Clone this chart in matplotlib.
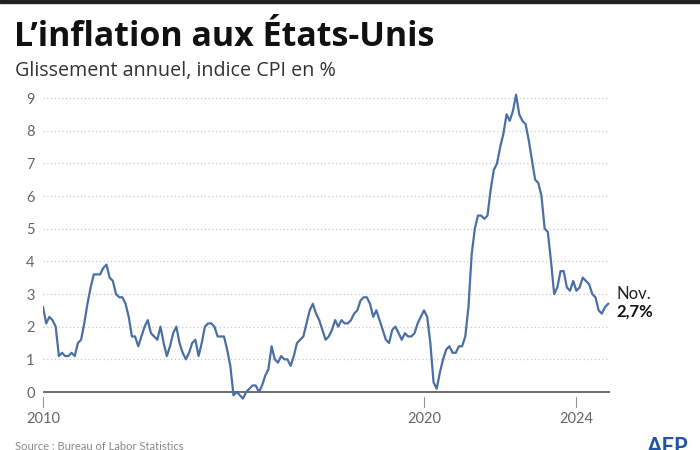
## US inflation chart (CPI, year on year) ##

import numpy as np
import matplotlib
matplotlib.use('Agg')
import matplotlib.pyplot as plt
from matplotlib.patches import Rectangle

# monthly CPI year-on-year change, Jan 2010 .. Nov 2024
cpi_2010 = [2.6, 2.1, 2.3, 2.2, 2.0, 1.1, 1.2, 1.1, 1.1, 1.2, 1.1, 1.5]
cpi_2011 = [1.6, 2.1, 2.7, 3.2, 3.6, 3.6, 3.6, 3.8, 3.9, 3.5, 3.4, 3.0]
cpi_2012 = [2.9, 2.9, 2.7, 2.3, 1.7, 1.7, 1.4, 1.7, 2.0, 2.2, 1.8, 1.7]
cpi_2013 = [1.6, 2.0, 1.5, 1.1, 1.4, 1.8, 2.0, 1.5, 1.2, 1.0, 1.2, 1.5]
cpi_2014 = [1.6, 1.1, 1.5, 2.0, 2.1, 2.1, 2.0, 1.7, 1.7, 1.7, 1.3, 0.8]
cpi_2015 = [-0.1, 0.0, -0.1, -0.2, 0.0, 0.1, 0.2, 0.2, 0.0, 0.2, 0.5, 0.7]
cpi_2016 = [1.4, 1.0, 0.9, 1.1, 1.0, 1.0, 0.8, 1.1, 1.5, 1.6, 1.7, 2.1]
cpi_2017 = [2.5, 2.7, 2.4, 2.2, 1.9, 1.6, 1.7, 1.9, 2.2, 2.0, 2.2, 2.1]
cpi_2018 = [2.1, 2.2, 2.4, 2.5, 2.8, 2.9, 2.9, 2.7, 2.3, 2.5, 2.2, 1.9]
cpi_2019 = [1.6, 1.5, 1.9, 2.0, 1.8, 1.6, 1.8, 1.7, 1.7, 1.8, 2.1, 2.3]
cpi_2020 = [2.5, 2.3, 1.5, 0.3, 0.1, 0.6, 1.0, 1.3, 1.4, 1.2, 1.2, 1.4]
cpi_2021 = [1.4, 1.7, 2.6, 4.2, 5.0, 5.4, 5.4, 5.3, 5.4, 6.2, 6.8, 7.0]
cpi_2022 = [7.5, 7.9, 8.5, 8.3, 8.6, 9.1, 8.5, 8.3, 8.2, 7.7, 7.1, 6.5]
cpi_2023 = [6.4, 6.0, 5.0, 4.9, 4.0, 3.0, 3.2, 3.7, 3.7, 3.2, 3.1, 3.4]
cpi_2024 = [3.1, 3.2, 3.5, 3.4, 3.3, 3.0, 2.9, 2.5, 2.4, 2.6, 2.7]

values = (cpi_2010 + cpi_2011 + cpi_2012 + cpi_2013 + cpi_2014 + cpi_2015
          + cpi_2016 + cpi_2017 + cpi_2018 + cpi_2019 + cpi_2020 + cpi_2021
          + cpi_2022 + cpi_2023 + cpi_2024)
dates = 2010 + np.arange(len(values)) / 12.0

year_ticks = [2010, 2020, 2024]
y_ticks = [0, 1, 2, 3, 4, 5, 6, 7, 8, 9]

plt.rcParams['font.family'] = ['Lato', 'DejaVu Sans']

W, H = 700, 450
fig = plt.figure(figsize=(7, 4.5), dpi=100)

# axes placed in pixels: x 2010 -> 43px, y 0 -> 392px, 9 -> 98px
x0, x1 = 2010, 2024.88
y0, y1 = -0.3, 9.3
px_year = 38.1
px_unit = (392 - 98) / 9.0
left = 43
right = left + (x1 - x0) * px_year
top = 98 - (y1 - 9) * px_unit
bottom = 392 + (0 - y0) * px_unit
ax = fig.add_axes([left / W, 1 - bottom / H, (right - left) / W, (bottom - top) / H])

for v in y_ticks[1:]:
    ax.axhline(v, color='#c8c8c8', lw=0.9, ls=(0, (1, 2)), zorder=1)
ax.axhline(0, color='#555555', lw=1.2, zorder=2)

ax.plot(dates, values, color='#4a6fa5', lw=1.6, zorder=3, solid_joinstyle='round')

ax.set_xlim(x0, x1)
ax.set_ylim(y0, y1)
for s in ax.spines.values():
    s.set_visible(False)

ax.set_yticks(y_ticks)
ax.set_yticklabels([str(v) for v in y_ticks])
ax.set_xticks([])
ax.tick_params(axis='y', length=0, pad=6, labelsize=10.5, labelcolor='#666666')

# year ticks hanging under the zero line
for yr in year_ticks:
    ax.plot([yr, yr], [-0.15, -0.45], color='#999999', lw=0.8, clip_on=False)
    ax.text(yr, -0.6, str(yr), ha='center', va='top', fontsize=10.5, color='#666666')

ax.text(2025.06, 3.0, 'Nov.', ha='left', va='center', fontsize=12, color='#222222')
ax.text(2025.06, 2.45, '2,7%', ha='left', va='center', fontsize=12,
        fontweight='bold', color='#111111')

# titles
fig.text(14 / W, 1 - 37 / H, 'L\u2019inflation aux \u00c9tats-Unis', ha='left', va='center',
         fontsize=24.5, fontweight='bold', color='#111111', family=['Open Sans', 'DejaVu Sans'])
fig.text(15 / W, 1 - 71 / H, 'Glissement annuel, indice CPI en %', ha='left', va='center',
         fontsize=14.2, color='#333333', family=['Open Sans', 'DejaVu Sans'])

# top rule
fig.patches.append(Rectangle((0, 1 - 3 / H), 1, 3 / H, transform=fig.transFigure,
                             color='#222222'))

# source and logo, cut off at the bottom edge as in the original
fig.text(15 / W, 1 - 452 / H, 'Source : Bureau of Labor Statistics', ha='left',
         va='bottom', fontsize=8, color='#888888')
fig.text(688 / W, 1 - 458 / H, 'AFP', ha='right', va='bottom', fontsize=16,
         fontweight='bold', color='#1f55a3')

fig.savefig('out.png', dpi=100)
